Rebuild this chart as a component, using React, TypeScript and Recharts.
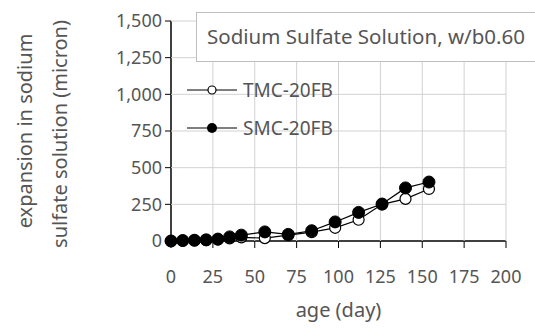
import React from 'react';
import { LineChart, Line, XAxis, YAxis } from 'recharts';

const ages = [0, 7, 14, 21, 28, 35, 42, 56, 70, 84, 98, 112, 126, 140, 154];
const tmc = [0, 2, 4, 6, 10, 18, 25, 20, 40, 60, 90, 145, 250, 287, 355];
const smc = [0, 3, 5, 8, 13, 28, 40, 62, 45, 70, 130, 195, 252, 362, 402];
const xTicks = [0, 25, 50, 75, 100, 125, 150, 175, 200];
const yTicks = [0, 250, 500, 750, 1000, 1250, 1500];

const data = ages.map((a, i) => ({ age: a, tmc: tmc[i], smc: smc[i] }));

const FONT = '"Noto Sans", sans-serif';
const TEXT = '#555';
const GRID = '#d2d2d2';

// plot frame (from the chart margins / axis sizes)
const W = 535;
const H = 331;
const M = { top: 21, right: 29, left: 171, bottom: 90 };
const X_TICK = 7, X_GAP = 22, Y_TICK = 6, Y_GAP = 3;

const XTick = (props: any) => {
  const { x, y, payload } = props;
  const axisY = y - X_TICK - X_GAP;
  return (
    <g>
      {payload.value !== 0 && <line x1={x} x2={x} y1={M.top} y2={axisY} stroke={GRID} />}
      <text x={x} y={y} dy="0.71em" textAnchor="middle" fontFamily={FONT} fontSize={18} fill={TEXT}>
        {payload.value}
      </text>
    </g>
  );
};

const YTick = (props: any) => {
  const { x, y, payload } = props;
  const axisX = x + Y_TICK + Y_GAP;
  return (
    <g>
      {payload.value !== 0 && <line x1={axisX} x2={W - M.right} y1={y} y2={y} stroke={GRID} />}
      <text x={x} y={y} dy="0.355em" textAnchor="end" fontFamily={FONT} fontSize={18} fill={TEXT}>
        {payload.value.toLocaleString('en-US')}
      </text>
    </g>
  );
};

const YTitle = () => (
  <g fontFamily={FONT} fontSize={20} fill={TEXT}>
    <text x={24} y={131} transform="rotate(-90 24 131)" textAnchor="middle" dominantBaseline="central">
      expansion in sodium
    </text>
    <text x={59} y={134} transform="rotate(-90 59 134)" textAnchor="middle" dominantBaseline="central">
      sulfate solution (micron)
    </text>
  </g>
);

export default function App() {
  return (
    <div style={{ position: 'absolute', left: 0, top: 0, width: W, height: H, background: '#fff', overflow: 'hidden' }}>
      {/* layer 1: axes and grid (invisible series so the y axis gets its ticks) */}
      <LineChart width={W} height={H} data={data} margin={{ top: M.top, right: M.right, bottom: 0, left: 0 }}>
        <XAxis
          dataKey="age"
          type="number"
          domain={[0, 200]}
          ticks={xTicks}
          height={M.bottom}
          tickSize={X_TICK}
          tickMargin={X_GAP}
          axisLine={{ stroke: '#000', strokeWidth: 1.5 }}
          tickLine={{ stroke: '#000' }}
          tick={<XTick />}
          label={{ value: 'age (day)', position: 'insideBottom', offset: 14, fontFamily: FONT, fontSize: 20, fill: TEXT }}
        />
        <YAxis
          type="number"
          domain={[0, 1500]}
          ticks={yTicks}
          width={M.left}
          tickSize={Y_TICK}
          tickMargin={Y_GAP}
          axisLine={{ stroke: '#000', strokeWidth: 1.5 }}
          tickLine={{ stroke: '#000' }}
          tick={<YTick />}
          label={{ content: () => <YTitle /> }}
        />
        <Line dataKey="smc" stroke="none" dot={false} activeDot={false} isAnimationActive={false} />
      </LineChart>
      {/* layer 2: series on top of the grid */}
      <div style={{ position: 'absolute', left: 0, top: 0 }}>
        <LineChart width={W} height={H} data={data} margin={{ top: M.top, right: M.right, bottom: 0, left: 0 }}>
          <XAxis dataKey="age" type="number" domain={[0, 200]} ticks={xTicks} height={M.bottom} tick={false} axisLine={false} tickLine={false} />
          <YAxis type="number" domain={[0, 1500]} ticks={yTicks} width={M.left} tick={false} axisLine={false} tickLine={false} />
          <Line
            type="linear"
            dataKey="tmc"
            stroke="#000"
            strokeWidth={1.2}
            dot={{ r: 5.5, fill: '#fff', stroke: '#000', strokeWidth: 1.2 }}
            isAnimationActive={false}
          />
          <Line
            type="linear"
            dataKey="smc"
            stroke="#000"
            strokeWidth={1.2}
            dot={{ r: 6, fill: '#000', stroke: '#000', strokeWidth: 1 }}
            isAnimationActive={false}
          />
        </LineChart>
      </div>
      <svg width={170} height={70} style={{ position: 'absolute', left: 185, top: 78, overflow: 'visible' }}>
        <g fontFamily={FONT} fontSize={19} fill={TEXT}>
          <line x1={2} y1={12} x2={52} y2={12} stroke="#000" strokeWidth={1.2} />
          <circle cx={27} cy={12} r={4} fill="#fff" stroke="#000" strokeWidth={1.2} />
          <text x={58} y={12} dominantBaseline="central">TMC-20FB</text>
          <line x1={2} y1={50} x2={52} y2={50} stroke="#000" strokeWidth={1.2} />
          <circle cx={27} cy={50} r={5} fill="#000" />
          <text x={58} y={50} dominantBaseline="central">SMC-20FB</text>
        </g>
      </svg>
      <div
        style={{
          position: 'absolute',
          left: 196,
          top: 12,
          width: 360,
          height: 50,
          border: '1px solid #bfbfbf',
          background: '#fff',
          boxSizing: 'border-box',
          fontFamily: FONT,
          fontSize: 20.5,
          color: TEXT,
          lineHeight: '46px',
          paddingLeft: 10,
          whiteSpace: 'nowrap',
        }}
      >
        Sodium Sulfate Solution, w/b0.60
      </div>
    </div>
  );
}
